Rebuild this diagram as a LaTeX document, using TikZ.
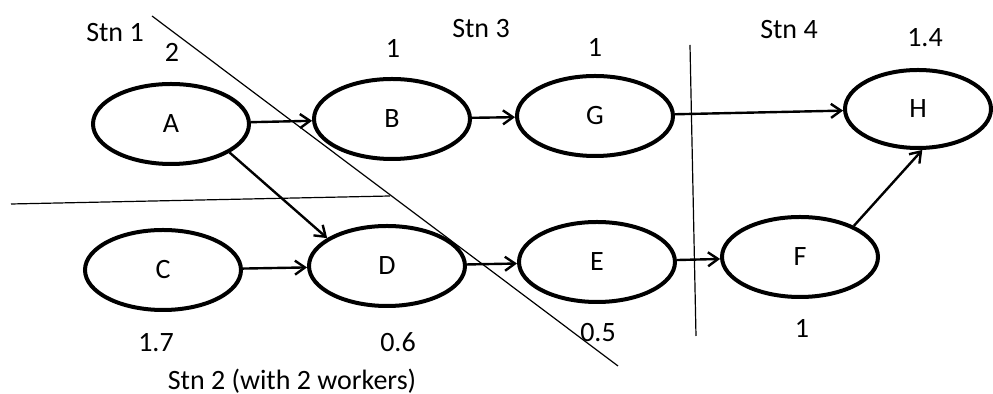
\documentclass[tikz,border=0pt]{standalone}
\usepackage{fontspec}
\setmainfont{Carlito}
\usetikzlibrary{shapes.geometric,arrows.meta}
\tikzset{
  task/.style={ellipse, draw, line width=2pt, minimum width=78pt, minimum height=40pt, inner sep=0pt, font=\fontsize{14}{16}\selectfont},
  flow/.style={line width=1.2pt, -{Straight Barb[length=5pt,width=7pt,line width=1.2pt]}},
  cut/.style={line width=0.6pt},
  lbl/.style={font=\fontsize{14}{16}\selectfont, inner sep=0pt}
}
\begin{document}
\begin{tikzpicture}[x=0.5pt,y=-0.5pt]
\useasboundingbox (0,0) rectangle (993,394);

% station boundaries
\coordinate (d1) at (152,16);
\coordinate (d2) at (618,366);
\coordinate (h1) at (11,204);
\coordinate (h2) at (390,196);
\coordinate (v1) at (690,45);
\coordinate (v2) at (696,336);
\draw[cut] (d1) -- (d2);
\draw[cut] (h1) -- (h2);
\draw[cut] (v1) -- (v2);

% tasks
\node[task] (A) at (171,124) {A};
\node[task] (B) at (392,119) {B};
\node[task] (G) at (595,116) {G};
\node[task,minimum width=73pt,minimum height=39pt] (H) at (918,109) {H};
\node[task] (C) at (163,270) {C};
\node[task] (D) at (387,266) {D};
\node[task] (E) at (597,262) {E};
\node[task] (F) at (800,257) {F};

% precedence
\draw[flow] (A) -- (B);
\draw[flow] (B) -- (G);
\draw[flow] (G) -- (H);
\draw[flow] (A.-26) -- (D.155);
\draw[flow] (C) -- (D);
\draw[flow] (D) -- (E);
\draw[flow] (E) -- (F);
\draw[flow] (F.30) -- (H.-84);

% task times and station names
\node[lbl] (s1) at (115,33) {Stn 1};
\node[lbl] (tA) at (172,52) {2};
\node[lbl] (tB) at (393,48) {1};
\node[lbl] (s3) at (481,29) {Stn 3};
\node[lbl] (tG) at (595,47) {1};
\node[lbl] (s4) at (789,30) {Stn 4};
\node[lbl] (tH) at (925,38) {1.4};
\node[lbl] (tC) at (156,343) {1.7};
\node[lbl] (tD) at (398,342) {0.6};
\node[lbl] (tE) at (598,333) {0.5};
\node[lbl] (tF) at (802,328) {1};
\node[lbl] (s2) at (292,381) {Stn 2 (with 2 workers)};
\end{tikzpicture}
\end{document}
